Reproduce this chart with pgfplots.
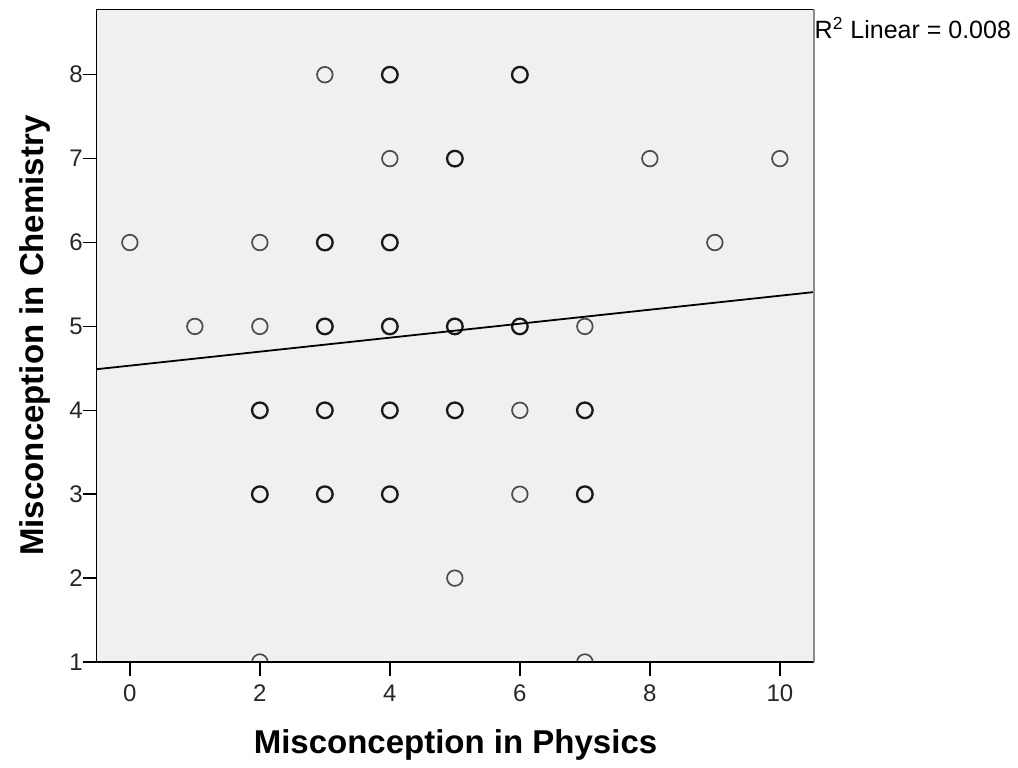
\documentclass[border=0pt]{standalone}
\usepackage{fontspec}
\setmainfont{Liberation Sans}
\usepackage{pgfplots}
\pgfplotsset{compat=1.18}
\definecolor{plotbg}{HTML}{F0F0F0}
\definecolor{rframe}{HTML}{8C8C8C}
\begin{document}
\begin{tikzpicture}
\useasboundingbox (-48.35pt,-52.5pt) rectangle (460.65pt,331pt);
\begin{axis}[
  at={(0,0)}, anchor=south west,
  scale only axis, width=358.8pt, height=326.35pt,
  xmin=-0.51, xmax=10.53, ymin=1, ymax=8.78,
  xtick={0,2,...,10}, ytick={1,...,8},
  tick pos=left, tick align=outside,
  major tick length=7pt,
  major tick style={black, line width=0.75pt},
  axis line style={draw=none},
  axis background/.style={fill=plotbg},
  /pgf/number format/assume math mode=true,
  tick label style={font=\fontsize{12}{14}\selectfont, text=black!85},
  xticklabel style={anchor=north, yshift=-1pt},
  yticklabel style={anchor=east, xshift=3.5pt},
  xlabel={Misconception in Physics},
  ylabel={Misconception in Chemistry},
  every axis x label/.style={at={(axis description cs:0.5,-0.127)}, anchor=center,
    font=\bfseries\fontsize{16.5}{19}\selectfont},
  every axis y label/.style={at={(axis description cs:-0.086,0.5)}, anchor=center, rotate=90,
    font=\bfseries\fontsize{16.5}{19}\selectfont},
  clip mode=individual, clip marker paths=true,
]
% points where a single case sits
\addplot[only marks, mark=o, mark size=3.9pt, draw=black!70, mark options={line width=0.85pt}] coordinates {
  (3,8) (4,7) (8,7) (10,7) (0,6) (2,6) (9,6) (1,5) (2,5) (7,5)
  (6,4) (6,3) (5,2) (2,1) (7,1)
};
% points where several cases overlap
\addplot[only marks, mark=o, mark size=3.9pt, draw=black!90, mark options={line width=1.15pt}] coordinates {
  (4,8) (6,8) (5,7) (3,6) (4,6) (3,5) (4,5) (5,5) (6,5)
  (2,4) (3,4) (4,4) (5,4) (7,4) (2,3) (3,3) (4,3) (7,3)
};
% fit line
\addplot[black, line width=0.9pt] coordinates {(-0.51,4.49) (10.53,5.41)};
\draw[black, line width=0.75pt] (rel axis cs:0,1) -- (rel axis cs:0,0) -- (rel axis cs:1,0);
\draw[black, line width=0.7pt] (rel axis cs:0,1) -- (rel axis cs:1,1);
\draw[rframe, line width=1.1pt] (rel axis cs:1,0) -- (rel axis cs:1,1);
\node[anchor=base west, inner sep=0pt, font=\fontsize{12.5}{15}\selectfont]
  at ([xshift=0pt,yshift=-14.5pt]rel axis cs:1,1) {R\textsuperscript{2} Linear = 0.008};
\end{axis}
\end{tikzpicture}
\end{document}
